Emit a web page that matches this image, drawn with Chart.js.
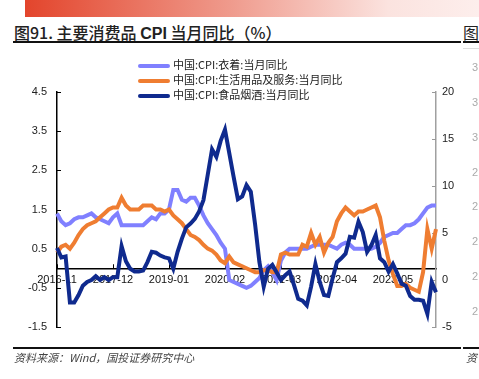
<!DOCTYPE html>
<html>
<head>
<meta charset="utf-8">
<script src="https://cdn.jsdelivr.net/npm/chart.js@4.4.0/dist/chart.umd.min.js"></script>
<style>
  body { margin: 0; width: 479px; height: 379px; overflow: hidden; background: #fff; position: relative;
         font-family: "Liberation Sans", Arial, "Noto Sans CJK SC", sans-serif; }
  #band { position: absolute; left: 25px; top: 0; width: 454px; height: 17px;
          background: linear-gradient(to right, #e3452c, #ef9a8c 45%, #fbe3df 80%, #fdeeec); }
  #title { position: absolute; left: 14px; top: 20px; font-size: 16px; color: #222; white-space: nowrap;
           font-family: "Noto Sans CJK SC", sans-serif; font-weight: 500; }
  #title b { font-family: "Liberation Sans", Arial, sans-serif; font-weight: 700; }
  .rule { position: absolute; height: 2px; background: #111; }
  #legend { position: absolute; left: 138px; top: 57px; font-size: 11px; color: #222;
            font-family: "Noto Sans CJK SC", sans-serif; }
  #legend div { height: 15px; line-height: 15px; white-space: nowrap; }
  #legend span { display: inline-block; width: 32px; height: 4px; border-radius: 2px; vertical-align: middle; margin-right: 3px; }
  #source { position: absolute; left: 14px; top: 349px; font-size: 11px; color: #444; font-style: italic;
            font-family: "Noto Sans CJK SC", sans-serif; white-space: nowrap; }
  .edge { position: absolute; left: 472px; font-size: 11px; color: #aaa; }
  canvas { position: absolute; left: 0; top: 0; }
</style>
</head>
<body>
<div id="band"></div>
<div id="title">图91. 主要消费品 <b>CPI</b> 当月同比（%）</div>
<div style="position:absolute;left:463px;top:20px;font-size:16px;color:#222;font-family:'Noto Sans CJK SC'">图</div>
<div class="rule" style="left:13px;top:41px;width:448px"></div>
<div class="rule" style="left:463px;top:41px;width:16px"></div>
<div style="position:absolute;left:463px;top:48px;width:16px;height:1px;background:#ddd"></div>
<canvas id="chart" width="479" height="379"></canvas>
<div id="legend"></div>
<div class="rule" style="left:13px;top:347px;width:448px"></div>
<div class="rule" style="left:463px;top:347px;width:16px"></div>
<div id="source">资料来源：Wind，国投证券研究中心</div>
<div style="position:absolute;left:466px;top:349px;font-size:11px;color:#444;font-style:italic;font-family:'Noto Sans CJK SC'">资</div>
<div class="edge" style="top:61px">3</div>
<div class="edge" style="top:96px">3</div>
<div class="edge" style="top:131px">3</div>
<div class="edge" style="top:166px">2</div>
<div class="edge" style="top:200px">2</div>
<div class="edge" style="top:235px">2</div>
<div class="edge" style="top:270px">2</div>
<div class="edge" style="top:305px">2</div>
<script>
const months = [
  '2016-11','2016-12',
  '2017-01','2017-02','2017-03','2017-04','2017-05','2017-06','2017-07','2017-08','2017-09','2017-10','2017-11','2017-12',
  '2018-01','2018-02','2018-03','2018-04','2018-05','2018-06','2018-07','2018-08','2018-09','2018-10','2018-11','2018-12',
  '2019-01','2019-02','2019-03','2019-04','2019-05','2019-06','2019-07','2019-08','2019-09','2019-10','2019-11','2019-12',
  '2020-01','2020-02','2020-03','2020-04','2020-05','2020-06','2020-07','2020-08','2020-09','2020-10','2020-11','2020-12',
  '2021-01','2021-02','2021-03','2021-04','2021-05','2021-06','2021-07','2021-08','2021-09','2021-10','2021-11','2021-12',
  '2022-01','2022-02','2022-03','2022-04','2022-05','2022-06','2022-07','2022-08','2022-09','2022-10','2022-11','2022-12',
  '2023-01','2023-02','2023-03','2023-04','2023-05','2023-06','2023-07','2023-08','2023-09','2023-10','2023-11','2023-12',
  '2024-01','2024-02','2024-03'
];
const tickLabels = ['2016-11','2017-12','2019-01','2020-02','2021-03','2022-04','2023-05'];

// left axis
const clothing = [
  1.4, 1.2,
  1.1, 1.15, 1.25, 1.3, 1.3, 1.35, 1.4, 1.3, 1.25, 1.2, 1.15, 1.3,
  1.4, 1.1, 1.1, 1.1, 1.1, 1.1, 1.1, 1.2, 1.3, 1.25, 1.4, 1.4,
  1.5, 2.0, 2.0, 1.75, 1.7, 1.8, 1.8, 1.6, 1.35, 1.15, 1.0, 0.85,
  0.65, 0.5, -0.3, -0.35, -0.4, -0.45, -0.5, -0.45, -0.35, -0.25, -0.05, 0.05,
  -0.1, -0.3, 0.2, 0.4, 0.5, 0.5, 0.5, 0.5, 0.5, 0.55, 0.6, 0.6,
  0.6, 0.6, 0.55, 0.5, 0.6, 0.65, 0.6, 0.5, 0.5, 0.5, 0.5, 0.5,
  0.55, 0.65, 0.8, 0.85, 0.9, 0.9, 1.0, 1.1, 1.1, 1.15, 1.25, 1.4,
  1.55, 1.6, 1.6
];
const dailyGoods = [
  0.4, 0.55,
  0.6, 0.5, 0.65, 0.85, 1.0, 1.1, 1.15, 1.2, 1.3, 1.4, 1.5, 1.55,
  1.55, 1.8, 1.6, 1.5, 1.5, 1.5, 1.6, 1.6, 1.6, 1.5, 1.5, 1.45,
  1.5, 1.35, 1.25, 1.15, 1.0, 0.85, 0.8, 0.72, 0.6, 0.5, 0.45, 0.35,
  0.2, 0.13, 0.3, 0.15, 0.1, 0.05, 0.0, -0.05, -0.1, -0.1, -0.05, -0.05,
  -0.1, -0.1, 0.35, 0.4, 0.35, 0.35, 0.35, 0.6, 0.55, 0.9, 0.6, 0.8,
  0.4, 0.65, 0.8, 1.2, 1.4, 1.55, 1.45, 1.35, 1.45, 1.45, 1.5, 1.55,
  1.6, 1.3, 0.7, 0.2, -0.15, -0.45, -0.45, -0.4, -0.5, -0.55, -0.6, -0.1,
  1.0, 0.5, 1.0
];
// right axis
const foodTobaccoLiquor = [
  3.4, 2.4,
  2.5, -2.4, -2.4, -1.6, -0.6, -0.2, 0.0, 0.4, 0.0, 0.3, 0.0, 0.3,
  0.3, 3.6, 2.0, 1.2, 0.9, 0.9, 1.0, 1.9, 3.0, 2.9, 2.6, 2.4,
  2.3, 1.2, 3.0, 4.4, 5.6, 6.0, 6.5, 7.3, 8.5, 11.2, 13.9, 13.1,
  14.8, 16.0, 13.5, 11.0, 8.6, 8.9, 10.1, 9.4, 5.9, 1.9, -0.7, 1.2,
  1.6, 0.8, 0.0, 0.5, 0.9, -0.5, -2.0, -2.2, -2.7, -0.7, 1.7, -0.2,
  -1.6, -1.7, 0.2, 1.9, 2.3, 2.8, 4.6, 4.5, 6.2, 5.1, 3.0, 3.7,
  4.8, 2.3, 1.9, 0.9, 1.7, 0.7, -0.4, -0.6, -1.7, -2.1, -2.1, -2.2,
  -3.6, -0.2, -1.3
];

Chart.defaults.font.family = '"Liberation Sans", Arial, sans-serif';
Chart.defaults.font.size = 11;
Chart.defaults.color = '#222';

// short tick marks pointing into the plot
const innerTicks = {
  id: 'innerTicks',
  beforeDatasetsDraw(chart) {
    const {ctx, chartArea: {left, right}, scales: {x, y, y1}} = chart;
    const seg = (x0, y0, x1, y1_) => { ctx.beginPath(); ctx.moveTo(x0, y0); ctx.lineTo(x1, y1_); ctx.stroke(); };
    ctx.save();
    ctx.lineWidth = 1;
    ctx.strokeStyle = '#000';
    y.ticks.forEach(t => { const p = Math.round(y.getPixelForValue(t.value)) + 0.5; seg(left, p, left + 4, p); });
    const y0 = y.getPixelForValue(0);
    tickLabels.forEach(l => { const p = Math.round(x.getPixelForValue(months.indexOf(l))) + 0.5; seg(p, y0, p, y0 - 4); });
    ctx.strokeStyle = '#999';
    y1.ticks.forEach(t => { const p = Math.round(y1.getPixelForValue(t.value)) + 0.5; seg(right - 4, p, right, p); });
    ctx.restore();
  }
};

const chart = new Chart(document.getElementById('chart'), {
  type: 'line',
  data: {
    labels: months,
    datasets: [
      { label: '中国:CPI:衣着:当月同比', data: clothing, yAxisID: 'y', borderColor: '#8080ff', order: 3 },
      { label: '中国:CPI:生活用品及服务:当月同比', data: dailyGoods, yAxisID: 'y', borderColor: '#ef7d31', order: 2 },
      { label: '中国:CPI:食品烟酒:当月同比', data: foodTobaccoLiquor, yAxisID: 'y1', borderColor: '#0f2a8e', order: 1 }
    ]
  },
  options: {
    responsive: false,
    animation: false,
    layout: { padding: { top: 92, bottom: 52, left: 0, right: 0 } },
    elements: {
      point: { radius: 0 },
      line: { borderWidth: 4, tension: 0, fill: false }
    },
    plugins: { legend: { display: false }, tooltip: { enabled: false } },
    scales: {
      x: {
        type: 'category',
        position: { y: 0 },
        offset: false,
        grid: { display: false, drawTicks: false },
        border: { color: '#000', width: 1.5 },
        ticks: {
          autoSkip: false, maxRotation: 0, padding: 5, color: '#111',
          callback: (v, i) => tickLabels.includes(months[i]) ? months[i] : null
        }
      },
      y: {
        position: 'left',
        min: -1.5, max: 4.5,
        grid: { display: false, drawTicks: false },
        border: { color: '#000', width: 1.5 },
        ticks: { stepSize: 1, padding: 10, color: '#222', callback: v => v.toFixed(1) },
        afterFit: s => { s.width = 57; }
      },
      y1: {
        position: 'right',
        min: -5, max: 20,
        grid: { display: false, drawTicks: false },
        border: { color: '#a0a0a0', width: 1.5 },
        ticks: { stepSize: 5, padding: 6, color: '#222' },
        afterFit: s => { s.width = 43; }
      }
    }
  },
  plugins: [innerTicks]
});

// legend rows built from the datasets
const legend = document.getElementById('legend');
chart.data.datasets.forEach(ds => {
  const row = document.createElement('div');
  row.innerHTML = '<span style="background:' + ds.borderColor + '"></span>' + ds.label;
  legend.appendChild(row);
});
</script>
</body>
</html>
